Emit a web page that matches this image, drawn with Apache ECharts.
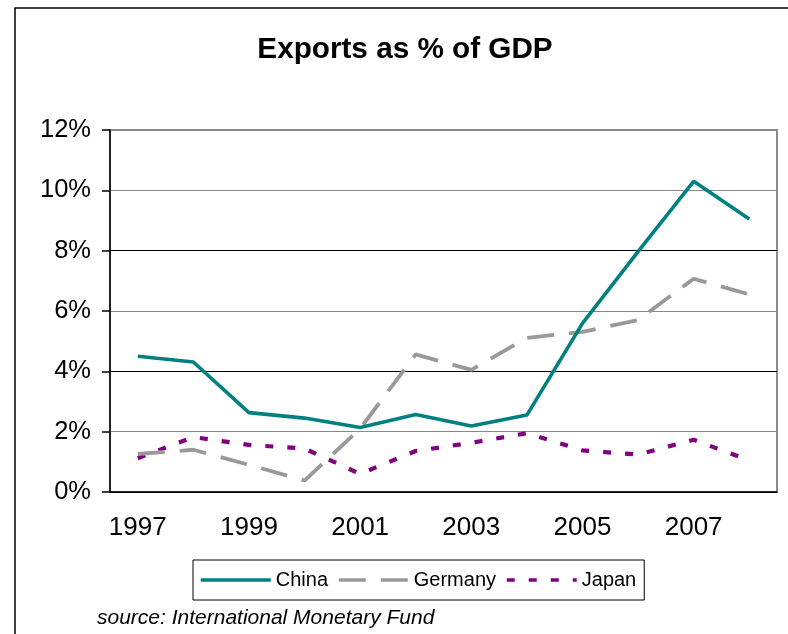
<!DOCTYPE html>
<html>
<head>
<meta charset="utf-8">
<script src="https://cdn.jsdelivr.net/npm/echarts@6/dist/echarts.min.js"></script>
<style>html,body{margin:0;padding:0;background:#fff}#c{width:788px;height:634px}</style>
</head>
<body>
<div id="c"></div>
<script>
const years = ['1997','1998','1999','2000','2001','2002','2003','2004','2005','2006','2007','2008'];
const china   = [4.50, 4.31, 2.63, 2.45, 2.14, 2.57, 2.19, 2.55, 5.59, 7.97, 10.30, 9.05];
const germany = [1.26, 1.40, 0.90, 0.38, 2.10, 4.56, 4.05, 5.11, 5.31, 5.70, 7.07, 6.55];
const japan   = [1.12, 1.82, 1.56, 1.44, 0.60, 1.36, 1.63, 1.95, 1.38, 1.24, 1.73, 1.05];
const yTicks = [0, 2, 4, 6, 8, 10, 12];

const chart = echarts.init(document.getElementById('c'), null, {renderer: 'canvas'});
const FONT = 'Liberation Sans, Arial, sans-serif';
chart.setOption({
  animation: false,
  backgroundColor: '#fff',
  textStyle: {fontFamily: FONT},
  grid: {left: 110, right: 11, top: 130, bottom: 142, show: true, borderColor: '#8c8c8c', borderWidth: 2, backgroundColor: 'transparent'},
  xAxis: {
    type: 'category', data: years, boundaryGap: true,
    axisLine: {lineStyle: {color: '#000', width: 1.5}},
    axisTick: {interval: 0, length: 7, lineStyle: {color: '#000', width: 1.5}},
    axisLabel: {interval: 1, margin: 23, fontSize: 26, color: '#000', fontFamily: FONT}
  },
  yAxis: {
    type: 'value', min: yTicks[0], max: yTicks[yTicks.length - 1], interval: 2,
    axisLine: {show: true, lineStyle: {color: '#000', width: 1.5}},
    axisTick: {show: true, length: 8, lineStyle: {color: '#000', width: 1.5}},
    axisLabel: {margin: 19, fontSize: 25.5, color: '#000', fontFamily: FONT, formatter: '{value}%'},
    splitLine: {show: true, lineStyle: {color: ['#000', '#888', '#000', '#888', '#000', '#888', '#888'], width: 1.2}}
  },
  legend: {
    left: 193, top: 560, orient: 'horizontal',
    padding: [10, 8, 10, 6], itemGap: 9, itemWidth: 70, itemHeight: 14,
    borderColor: '#000', borderWidth: 1,
    itemStyle: {opacity: 0},
    lineStyle: {width: 3.5},
    textStyle: {fontSize: 20, color: '#000', fontFamily: FONT},
    data: ['China', 'Germany', 'Japan']
  },
  series: [
    {name: 'China', type: 'line', data: china, symbol: 'none', color: '#008080',
     lineStyle: {color: '#008080', width: 3.6, type: 'solid'}, z: 5},
    {name: 'Germany', type: 'line', data: germany, symbol: 'none', color: '#999999',
     lineStyle: {color: '#999999', width: 3.8, type: [27, 15]}, z: 4},
    {name: 'Japan', type: 'line', data: japan, symbol: 'none', color: '#800080',
     lineStyle: {color: '#800080', width: 4.2, type: [8, 14]}, z: 3}
  ],
  graphic: [
    {type: 'rect', z: -10, shape: {x: 15, y: 8, width: 800, height: 700},
     style: {fill: 'none', stroke: '#000', lineWidth: 1.5}},
    {type: 'text', x: 405, y: 50, style: {text: 'Exports as % of GDP', fontSize: 29.7, fontWeight: 'bold', fontFamily: FONT, fill: '#000', textAlign: 'center', textVerticalAlign: 'middle'}},
    {type: 'text', x: 97, y: 618, style: {text: 'source: International Monetary Fund', fontSize: 21, fontStyle: 'italic', fontFamily: FONT, fill: '#000', textAlign: 'left', textVerticalAlign: 'middle'}}
  ]
});
</script>
</body>
</html>
